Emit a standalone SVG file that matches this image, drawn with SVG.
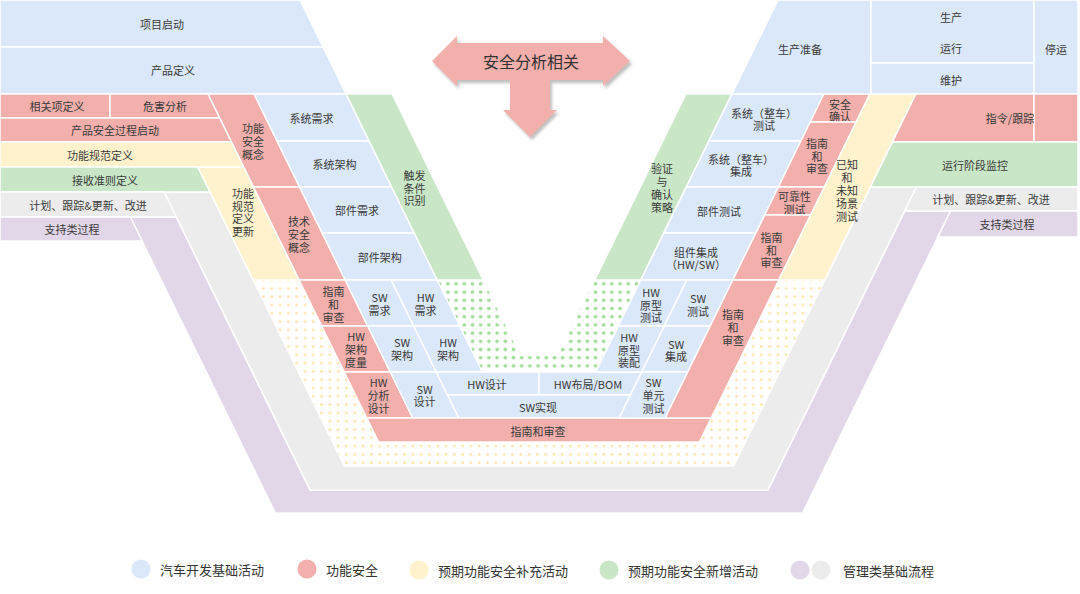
<svg xmlns="http://www.w3.org/2000/svg" width="1080" height="594" viewBox="0 0 1080 594">
<defs>
<style>
.b{fill:#DAE8FA;stroke:#fff;stroke-width:1.5}
.r{fill:#F3AFAC;stroke:#fff;stroke-width:1.5}
.y{fill:#FFF2CC;stroke:#fff;stroke-width:1.5}
.g{fill:#C9E6C6;stroke:#fff;stroke-width:1.5}
.gr{fill:#ECECEC;stroke:#fff;stroke-width:1.5}
.p{fill:#E2D6E9;stroke:#fff;stroke-width:1.5}
.yd{fill:url(#ydots);stroke:none}
.gd{fill:url(#gdots);stroke:none}
.t,.t tspan{font-family:"Noto Sans CJK SC","Liberation Sans",sans-serif;font-size:11px;fill:#3a3a3a;text-anchor:middle;dominant-baseline:central}
.lg{font-family:"Noto Sans CJK SC","Liberation Sans",sans-serif;font-size:13px;fill:#333;dominant-baseline:central}
</style>
<pattern id="ydots" patternUnits="userSpaceOnUse" width="8.3" height="8.3" x="2" y="2">
<rect width="8.3" height="8.3" fill="#fff"/>
<circle cx="4.15" cy="4.15" r="1.4" fill="#FBE6A8"/>
</pattern>
<pattern id="gdots" patternUnits="userSpaceOnUse" width="8.2" height="8.2" x="1" y="1">
<rect width="8.2" height="8.2" fill="#fff"/>
<circle cx="4.1" cy="4.1" r="1.9" fill="#A3DC9B"/>
</pattern>
<filter id="sh" x="-10%" y="-10%" width="130%" height="130%">
<feDropShadow dx="2" dy="3" stdDeviation="1.5" flood-color="#888" flood-opacity="0.55"/>
</filter>
</defs>
<rect width="1080" height="594" fill="#fff"/>

<!-- outer V bands -->
<g id="band-purple">
<polygon class="p" points="130.3,217 176.3,217 310.1,490 767.9,490 904.6,211 950.6,211 802.6,513 275.4,513"/>
</g>
<g id="band-grey">
<polygon class="gr" points="164.1,192 210.1,192 344.3,466 733.7,466 870.4,187 916.4,187 767.9,490 310.1,490"/>
</g>
<g id="band-yellow-dots">
<polygon class="yd" points="253.2,280 299.2,280 378.6,442 699.4,442 778.8,280 824.8,280 733.7,466 344.3,466"/>
</g>
<g id="band-green-dots">
<polygon class="gd" points="437.2,280 483.2,280 520.4,356 557.6,356 594.8,280 640.8,280 595.7,372 482.3,372"/>
</g>

<!-- left top -->
<g id="xiangmuqidong"><polygon class="b" points="0,0 300,0 323,47 0,47"/><text class="t" x="162" y="24">项目启动</text></g>
<g id="chanpindingyi"><polygon class="b" points="0,47 323,47 346.1,94 0,94"/><text class="t" x="173" y="70">产品定义</text></g>
<g id="xiangguanxiang"><polygon class="r" points="0,94 110,94 110,118 0,118"/><text class="t" x="57" y="106">相关项定义</text></g>
<g id="weihaifenxi"><polygon class="r" points="110,94 208.1,94 219.8,118 110,118"/><text class="t" x="165" y="106">危害分析</text></g>
<g id="anquanguocheng"><polygon class="r" points="0,118 219.8,118 231.6,142 0,142"/><text class="t" x="115" y="130">产品安全过程启动</text></g>
<g id="gongnengguifan"><polygon class="y" points="0,142 231.6,142 243.8,167 0,167"/><text class="t" x="100" y="155">功能规范定义</text></g>
<g id="jieshouzhunze"><polygon class="g" points="0,167 197.8,167 210.1,192 0,192"/><text class="t" x="105" y="180">接收准则定义</text></g>
<g id="jihua-left"><polygon class="gr" points="0,192 164.1,192 176.3,217 0,217"/><text class="t" x="88" y="205">计划、跟踪&amp;更新、改进</text></g>
<g id="zhichi-left"><polygon class="p" points="0,217 130.3,217 142.1,241 0,241"/><text class="t" x="72" y="229">支持类过程</text></g>

<!-- left arms -->
<g id="guifangengxin"><polygon class="y" points="197.8,167 243.8,167 299.2,280 253.2,280"/><text class="t" x="243" y="192.8"><tspan x="243" dy="0">功能</tspan><tspan x="243" dy="12.8">规范</tspan><tspan x="243" dy="12.8">定义</tspan><tspan x="243" dy="12.8">更新</tspan></text></g>
<g id="gongnenganquangainian"><polygon class="r" points="208.1,94 254.1,94 299.6,187 253.6,187"/><text class="t" x="253" y="128.2"><tspan x="253" dy="0">功能</tspan><tspan x="253" dy="12.8">安全</tspan><tspan x="253" dy="12.8">概念</tspan></text></g>
<g id="jishuanquangainian"><polygon class="r" points="253.6,187 299.6,187 345.2,280 299.2,280"/><text class="t" x="299" y="221.2"><tspan x="299" dy="0">技术</tspan><tspan x="299" dy="12.8">安全</tspan><tspan x="299" dy="12.8">概念</tspan></text></g>
<g id="zhinan-l1"><polygon class="r" points="299.2,280 345.2,280 367.7,326 321.7,326"/><text class="t" x="333.5" y="291.2"><tspan x="333.5" dy="0">指南</tspan><tspan x="333.5" dy="12.8">和</tspan><tspan x="333.5" dy="12.8">审查</tspan></text></g>
<g id="hwjiagoudulian"><polygon class="r" points="321.7,326 367.7,326 390.3,372 344.3,372"/><text class="t" x="356" y="336.2"><tspan x="356" dy="0">HW</tspan><tspan x="356" dy="12.8">架构</tspan><tspan x="356" dy="12.8">度量</tspan></text></g>
<g id="hwfenxisheji"><polygon class="r" points="344.3,372 390.3,372 412.8,418 366.8,418"/><text class="t" x="378.6" y="382.2"><tspan x="378.6" dy="0">HW</tspan><tspan x="378.6" dy="12.8">分析</tspan><tspan x="378.6" dy="12.8">设计</tspan></text></g>

<g id="xitongxuqiu"><polygon class="b" points="254.1,94 346.1,94 369.1,141 277.1,141"/><text class="t" x="311.6" y="117.5">系统需求</text></g>
<g id="xitongjiagou"><polygon class="b" points="277.1,141 369.1,141 391.6,187 299.6,187"/><text class="t" x="334.4" y="164">系统架构</text></g>
<g id="bujianxuqiu"><polygon class="b" points="299.6,187 391.6,187 414.2,233 322.2,233"/><text class="t" x="357" y="210">部件需求</text></g>
<g id="bujianjiagou"><polygon class="b" points="322.2,233 414.2,233 437.2,280 345.2,280"/><text class="t" x="379.7" y="256.5">部件架构</text></g>
<g id="swxuqiu"><polygon class="b" points="345.2,280 391.2,280 413.7,326 367.7,326"/><text class="t" x="379.5" y="297.1"><tspan x="379.5" dy="0" font-size="12">SW</tspan><tspan x="379.5" dy="12.8">需求</tspan></text></g>
<g id="hwxuqiu"><polygon class="b" points="391.2,280 437.2,280 459.7,326 413.7,326"/><text class="t" x="425.5" y="297.1"><tspan x="425.5" dy="0" font-size="12">HW</tspan><tspan x="425.5" dy="12.8">需求</tspan></text></g>
<g id="swjiagou"><polygon class="b" points="367.7,326 413.7,326 436.3,372 390.3,372"/><text class="t" x="402" y="342.1"><tspan x="402" dy="0" font-size="12">SW</tspan><tspan x="402" dy="12.8">架构</tspan></text></g>
<g id="hwjiagou"><polygon class="b" points="413.7,326 459.7,326 482.3,372 436.3,372"/><text class="t" x="448" y="342.1"><tspan x="448" dy="0" font-size="12">HW</tspan><tspan x="448" dy="12.8">架构</tspan></text></g>
<g id="swsheji"><polygon class="b" points="390.3,372 436.3,372 458.8,418 412.8,418"/><text class="t" x="424.6" y="388.6"><tspan x="424.6" dy="0" font-size="12">SW</tspan><tspan x="424.6" dy="12.8">设计</tspan></text></g>
<g id="chufatiaojian"><polygon class="g" points="346.1,94 392.1,94 483.2,280 437.2,280"/><text class="t" x="414.6" y="174.7"><tspan x="414.6" dy="0">触发</tspan><tspan x="414.6" dy="12.8">条件</tspan><tspan x="414.6" dy="12.8">识别</tspan></text></g>

<!-- bottom middle -->
<g id="hwsheji"><polygon class="b" points="436.3,372 539,372 539,395 447.6,395"/><text class="t" x="487" y="384">HW设计</text></g>
<g id="hwbuju"><polygon class="b" points="539,372 641.7,372 630.4,395 539,395"/><text class="t" x="588" y="384">HW布局/BOM</text></g>
<g id="swshixian"><polygon class="b" points="447.6,395 630.4,395 619.2,418 458.8,418"/><text class="t" x="538" y="407">SW实现</text></g>
<g id="zhinan-bottom"><polygon class="r" points="366.8,418 711.2,418 699.4,442 378.6,442"/><text class="t" x="538" y="431">指南和审查</text></g>

<!-- right arms -->
<g id="yanzheng"><polygon class="g" points="685.9,94 731.9,94 640.8,280 594.8,280"/><text class="t" x="662" y="168.3"><tspan x="662" dy="0">验证</tspan><tspan x="662" dy="12.8">与</tspan><tspan x="662" dy="12.8">确认</tspan><tspan x="662" dy="12.8">策略</tspan></text></g>
<g id="xitongceshi"><polygon class="b" points="731.9,94 823.9,94 800.9,141 708.9,141"/><text class="t" x="764" y="112.6"><tspan x="764" dy="0">系统（整车）</tspan><tspan x="764" dy="12.8">测试</tspan></text></g>
<g id="xitongjicheng"><polygon class="b" points="708.9,141 800.9,141 778.4,187 686.4,187"/><text class="t" x="741" y="158.6"><tspan x="741" dy="0">系统（整车）</tspan><tspan x="741" dy="12.8">集成</tspan></text></g>
<g id="bujianceshi"><polygon class="b" points="686.4,187 778.4,187 755.8,233 663.8,233"/><text class="t" x="719" y="211">部件测试</text></g>
<g id="zujianjicheng"><polygon class="b" points="663.8,233 755.8,233 732.8,280 640.8,280"/><text class="t" x="696" y="251.6"><tspan x="696" dy="0">组件集成</tspan><tspan x="696" dy="12.8">（HW/SW）</tspan></text></g>
<g id="hwyuanxingceshi"><polygon class="b" points="640.8,280 686.8,280 664.3,326 618.3,326"/><text class="t" x="651" y="291.7"><tspan x="651" dy="0" font-size="12">HW</tspan><tspan x="651" dy="12.8">原型</tspan><tspan x="651" dy="12.8">测试</tspan></text></g>
<g id="swceshi"><polygon class="b" points="686.8,280 732.8,280 710.3,326 664.3,326"/><text class="t" x="698" y="298.1"><tspan x="698" dy="0" font-size="12">SW</tspan><tspan x="698" dy="12.8">测试</tspan></text></g>
<g id="hwyuanxingzhuangpei"><polygon class="b" points="618.3,326 664.3,326 641.7,372 595.7,372"/><text class="t" x="629" y="336.7"><tspan x="629" dy="0" font-size="12">HW</tspan><tspan x="629" dy="12.8">原型</tspan><tspan x="629" dy="12.8">装配</tspan></text></g>
<g id="swjicheng"><polygon class="b" points="664.3,326 710.3,326 687.7,372 641.7,372"/><text class="t" x="676" y="343.6"><tspan x="676" dy="0" font-size="12">SW</tspan><tspan x="676" dy="12.8">集成</tspan></text></g>
<g id="swdanyuanceshi"><polygon class="b" points="641.7,372 687.7,372 665.2,418 619.2,418"/><text class="t" x="653.4" y="382.2"><tspan x="653.4" dy="0" font-size="12">SW</tspan><tspan x="653.4" dy="12.8">单元</tspan><tspan x="653.4" dy="12.8">测试</tspan></text></g>

<g id="anquanqueren"><polygon class="r" points="823.9,94 869.9,94 856.2,122 810.2,122"/><text class="t" x="840" y="103.6"><tspan x="840" dy="0">安全</tspan><tspan x="840" dy="12.8">确认</tspan></text></g>
<g id="zhinan-r1"><polygon class="r" points="810.2,122 856.2,122 824.4,187 778.4,187"/><text class="t" x="817" y="142.7"><tspan x="817" dy="0">指南</tspan><tspan x="817" dy="12.8">和</tspan><tspan x="817" dy="12.8">审查</tspan></text></g>
<g id="kekaoxing"><polygon class="r" points="778.4,187 824.4,187 810.7,215 764.7,215"/><text class="t" x="794.5" y="196.1"><tspan x="794.5" dy="0">可靠性</tspan><tspan x="794.5" dy="12.8">测试</tspan></text></g>
<g id="zhinan-r2"><polygon class="r" points="764.7,215 810.7,215 778.8,280 732.8,280"/><text class="t" x="771.5" y="236.7"><tspan x="771.5" dy="0">指南</tspan><tspan x="771.5" dy="12.8">和</tspan><tspan x="771.5" dy="12.8">审查</tspan></text></g>
<g id="zhinan-r3"><polygon class="r" points="732.8,280 778.8,280 711.2,418 665.2,418"/><text class="t" x="733" y="314.2"><tspan x="733" dy="0">指南</tspan><tspan x="733" dy="12.8">和</tspan><tspan x="733" dy="12.8">审查</tspan></text></g>
<g id="changjingceshi"><polygon class="y" points="869.9,94 915.9,94 824.8,280 778.8,280"/><text class="t" x="847" y="164.4"><tspan x="847" dy="0">已知</tspan><tspan x="847" dy="12.8">和</tspan><tspan x="847" dy="12.8">未知</tspan><tspan x="847" dy="12.8">场景</tspan><tspan x="847" dy="12.8">测试</tspan></text></g>

<!-- right top -->
<g id="shengchanzhunbei"><polygon class="b" points="778,0 871,0 871,94 731.9,94"/><text class="t" x="800" y="49">生产准备</text></g>
<g id="shengchanyunxing"><polygon class="b" points="871,0 1034,0 1034,63 871,63"/><text class="t" x="951" y="17">生产</text><text class="t" x="951" y="48">运行</text></g>
<g id="weihu"><polygon class="b" points="871,63 1034,63 1034,94 871,94"/><text class="t" x="951" y="80">维护</text></g>
<g id="tingyun"><polygon class="b" points="1034,0 1078,0 1078,94 1034,94"/><text class="t" x="1056" y="49">停运</text></g>
<g id="zhilinggenzong"><polygon class="r" points="915.9,94 1034,94 1034,142 892.4,142"/><polygon class="r" points="1034,94 1078,94 1078,142 1034,142"/><text class="t" x="1010" y="118">指令/跟踪</text></g>
<g id="yunxingjiankong"><polygon class="g" points="892.4,142 1078,142 1078,187 870.4,187"/><text class="t" x="975" y="165">运行阶段监控</text></g>
<g id="jihua-right"><polygon class="gr" points="916.4,187 1078,187 1078,211 904.6,211"/><text class="t" x="991" y="199">计划、跟踪&amp;更新、改进</text></g>
<g id="zhichi-right"><polygon class="p" points="950.6,211 1078,211 1078,237 937.9,237"/><text class="t" x="1007" y="224">支持类过程</text></g>

<!-- safety analysis arrow -->
<g id="arrows">
<polygon filter="url(#sh)" fill="#F2AFAC" points="432,61 457,36 457,43 603,43 603,36 630,61 603,86 603,80 550,80 550,110 557,110 530,137 503,110 510,110 510,80 457,80 457,86"/>
<text class="t" x="531" y="61" style="font-size:16px;fill:#333">安全分析相关</text>
</g>

<!-- legend -->
<g id="legend">
<circle cx="141" cy="569" r="9.5" fill="#DAE8FA"/><text class="lg" x="160" y="569">汽车开发基础活动</text>
<circle cx="307" cy="569" r="9.5" fill="#F3AFAC"/><text class="lg" x="326" y="569">功能安全</text>
<circle cx="419" cy="570" r="9.5" fill="#FFF2CC"/><text class="lg" x="438" y="570">预期功能安全补充活动</text>
<circle cx="609" cy="570" r="9.5" fill="#C9E6C6"/><text class="lg" x="628" y="570">预期功能安全新增活动</text>
<circle cx="800" cy="570" r="9.5" fill="#E2D6E9"/><circle cx="821" cy="570" r="9.5" fill="#ECECEC"/><text class="lg" x="843" y="570">管理类基础流程</text>
</g>
</svg>
